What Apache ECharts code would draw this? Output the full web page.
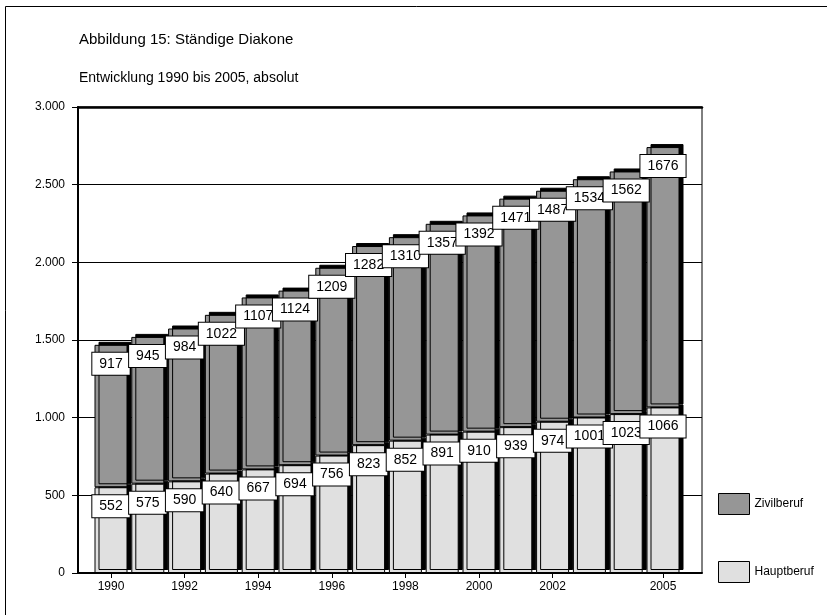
<!DOCTYPE html>
<html>
<head>
<meta charset="utf-8">
<script src="https://cdn.jsdelivr.net/npm/echarts@6/dist/echarts.min.js"></script>
<style>
  html, body { margin: 0; padding: 0; background: #fff; }
  #chart { width: 827px; height: 615px; }
</style>
</head>
<body>
<div id="chart"></div>
<script>
// Daten: Ständige Diakone 1990 bis 2005
const jahre = ['1990','1991','1992','1993','1994','1995','1996','1997','1998','1999','2000','2001','2002','2003','2004','2005'];
const hauptberuf = [552, 575, 590, 640, 667, 694, 756, 823, 852, 891, 910, 939, 974, 1001, 1023, 1066];
const zivilberuf = [917, 945, 984, 1022, 1107, 1124, 1209, 1282, 1310, 1357, 1392, 1471, 1487, 1534, 1562, 1676];
const beschrifteteJahre = ['1990','1992','1994','1996','1998','2000','2002','2005'];

const schrift = 'Liberation Sans, Arial, sans-serif';

// Tausenderpunkt wie im Original
function formatZahl(v) {
    if (v >= 1000) return Math.floor(v / 1000) + '.' + String(v % 1000).padStart(3, '0');
    return String(v);
}

const zeigeJahr = (idx, wert) => beschrifteteJahre.includes(wert);

const labelStil = {
    show: true,
    position: 'insideTop',
    distance: 8,
    color: '#000',
    fontFamily: schrift,
    fontSize: 14,
    backgroundColor: '#fff',
    borderColor: '#000',
    borderWidth: 1,
    padding: [3, 7, 3, 7],
    lineHeight: 16
};

const chart = echarts.init(document.getElementById('chart'));
chart.setOption({
    animation: false,
    textStyle: { fontFamily: schrift, color: '#000' },
    title: [
        { text: 'Abbildung 15: Ständige Diakone', left: 74, top: 27,
          textStyle: { fontSize: 15, fontWeight: 'normal', color: '#000', fontFamily: schrift } },
        { text: 'Entwicklung 1990 bis 2005, absolut', left: 74, top: 66,
          textStyle: { fontSize: 14, fontWeight: 'normal', color: '#000', fontFamily: schrift } }
    ],
    legend: {
        orient: 'vertical',
        left: 713,
        top: 488,
        icon: 'rect',
        itemWidth: 31,
        itemHeight: 21,
        itemGap: 46,
        data: ['Zivilberuf', 'Hauptberuf'],
        textStyle: { fontSize: 12, color: '#000', fontFamily: schrift, padding: [6, 0, 0, 0] },
        itemStyle: { borderColor: '#000', borderWidth: 1, shadowColor: 'rgba(0,0,0,0)', shadowOffsetX: 0, shadowOffsetY: 0 }
    },
    grid: [
        { left: 78, right: 125, top: 107, bottom: 42, show: true, borderColor: '#000', borderWidth: 1 },
        { left: 92.6, right: 145.6, top: 107, bottom: 42 }
    ],
    xAxis: [
        { type: 'category', gridIndex: 0, data: jahre, position: 'bottom',
          axisLine: { lineStyle: { color: '#000', width: 2 } },
          axisTick: { show: false }, axisLabel: { show: false } },
        { type: 'category', gridIndex: 1, data: jahre,
          axisLine: { show: false },
          axisTick: { show: true, interval: zeigeJahr, alignWithLabel: true, length: 5, lineStyle: { color: '#000' } },
          axisLabel: { interval: zeigeJahr, fontSize: 12, color: '#000', margin: 8, fontFamily: schrift } },
        { type: 'category', gridIndex: 0, data: jahre, position: 'top',
          axisLine: { lineStyle: { color: '#000', width: 2.5 } },
          axisTick: { show: false }, axisLabel: { show: false } }
    ],
    yAxis: [
        { type: 'value', gridIndex: 0, min: 0, max: 3000, interval: 500,
          axisLine: { show: true, lineStyle: { color: '#000', width: 2 } },
          axisTick: { show: true, length: 6, lineStyle: { color: '#000' } },
          axisLabel: { formatter: formatZahl, fontSize: 12, color: '#000', margin: 13, fontFamily: schrift },
          splitLine: { show: true, lineStyle: { color: '#000', width: 1 } } },
        { type: 'value', gridIndex: 1, min: 0, max: 3000, interval: 500, show: false }
    ],
    series: [
        {
            name: 'Hauptberuf', type: 'bar', stack: 'gesamt',
            xAxisIndex: 1, yAxisIndex: 1,
            barWidth: 33,
            data: hauptberuf,
            itemStyle: { color: '#e0e0e0', borderColor: '#000', borderWidth: 1,
                         shadowColor: '#000', shadowOffsetX: 4, shadowOffsetY: -3, shadowBlur: 0 },
            label: labelStil
        },
        {
            name: 'Zivilberuf', type: 'bar', stack: 'gesamt',
            xAxisIndex: 1, yAxisIndex: 1,
            barWidth: 33,
            data: zivilberuf,
            itemStyle: { color: '#969696', borderColor: '#000', borderWidth: 1,
                         shadowColor: '#000', shadowOffsetX: 4, shadowOffsetY: -3, shadowBlur: 0 },
            label: labelStil
        }
    ],
    graphic: [
        { type: 'polyline', silent: true,
          shape: { points: [[5.5, 615], [5.5, 6.5], [827, 6.5]] },
          style: { stroke: '#000', lineWidth: 1, fill: null } }
    ]
});
</script>
</body>
</html>
